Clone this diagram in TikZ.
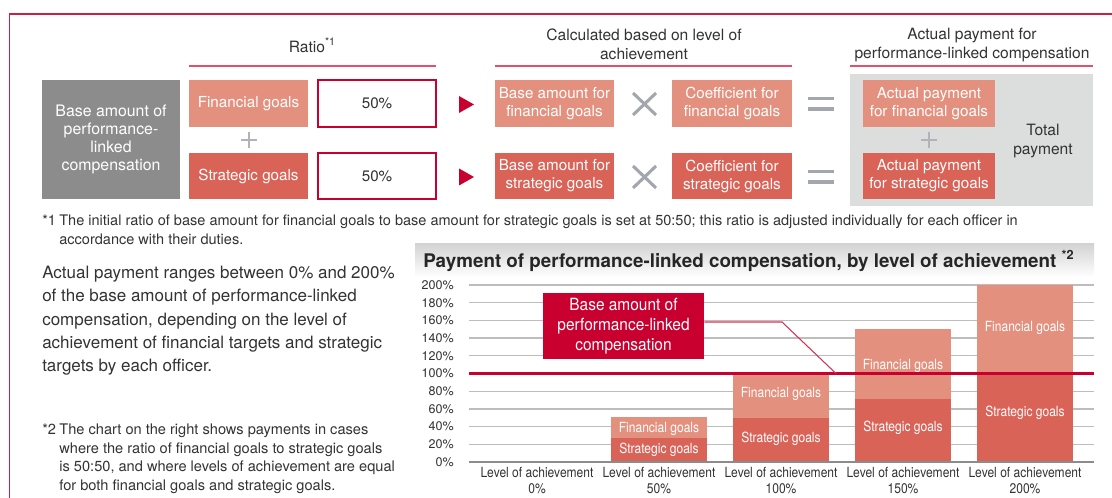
\documentclass[tikz,border=0pt]{standalone}
\usepackage{fontspec}
\setmainfont{TeX Gyre Heros}
\newfontfamily\rkcond[FakeStretch=0.86]{TeX Gyre Heros}
\newfontfamily\rkcallfam[FakeStretch=0.92]{TeX Gyre Heros}
\definecolor{finc}{HTML}{E4907E}
\definecolor{stratc}{HTML}{DA6358}
\definecolor{grayb}{HTML}{8C8C8C}
\definecolor{lightgr}{HTML}{DCDDDD}
\definecolor{crimson}{HTML}{C9002F}
\definecolor{pinkline}{HTML}{E2506C}
\definecolor{framec}{HTML}{CC1F45}
\definecolor{signgray}{HTML}{A3A6AC}
\definecolor{textc}{HTML}{333333}
\definecolor{gridc}{HTML}{BDBDBD}
\definecolor{titletop}{HTML}{D3D3D3}
\newcommand\rkbox{\fontsize{11.4}{13.5}\selectfont}
\newcommand\rkhdr{\fontsize{11.7}{14.25}\selectfont}
\newcommand\rkgray{\fontsize{11.9}{13.7}\selectfont}
\newcommand\rknote{\fontsize{10.9}{14.25}\selectfont}
\newcommand\rknotetwo{\fontsize{10.95}{14}\selectfont}
\newcommand\rkbody{\fontsize{12.75}{17.4}\selectfont}
\newcommand\rktitle{\fontsize{14.1}{16}\selectfont\bfseries}
\newcommand\rkbar{\rkcond\fontsize{10.5}{12}\selectfont}
\newcommand\rkxlab{\rkcond\fontsize{10.5}{12}\selectfont}
\newcommand\rkylab{\fontsize{9.4}{11}\selectfont}
\newcommand\rkcall{\rkcallfam\fontsize{12.6}{15}\selectfont}
\newcommand\rksup[2]{\raisebox{0.42em}{\fontsize{#1}{#1}\selectfont #2}}
\begin{document}
\begin{tikzpicture}[x=0.75pt,y=-0.75pt,
  pxsize/.style 2 args={minimum width={#1*0.75pt},minimum height={#2*0.75pt}},
  gbox/.style={draw=none,inner sep=0pt,align=center,text=white,font=\rkbox},
  finbox/.style={gbox,fill=finc},
  stratbox/.style={gbox,fill=stratc},
  pctbox/.style={inner sep=0pt,draw=crimson,line width=0.9pt,fill=white,text=textc,font=\rkbox},
  hdr/.style={align=center,text=textc,font=\rkhdr,inner sep=0pt},
  hrule/.style={draw=pinkline,line width=1.1pt},
  plussign/.style={draw=signgray!85,line width=1.5pt},
  timessign/.style={draw=signgray,line width=2.3pt},
  eqsign/.style={draw=signgray,line width=2.6pt},
  gridline/.style={draw=gridc,line width=0.9pt},
  barlabel/.style={text=white,font=\rkbar,inner sep=0pt},
  xlab/.style={align=center,text=textc,font=\rkxlab,inner sep=0pt},
  ylab/.style={anchor=east,text=textc,font=\rkylab,inner sep=0pt},
  callline/.style={draw=crimson!80,line width=0.8pt}]
\useasboundingbox (0,0) rectangle (1112,498);
\fill[white] (0,0) rectangle (1112,498);
% frame
\draw[framec,line width=0.8pt] (9.6,498) -- (9.6,14) -- (1112,14);
% headers
\node[hdr] (h1) at (312,45) {Ratio\rksup{8}{*1}};
\draw[hrule] (189,66) -- (436,66);
\node[hdr] (h2) at (644,44.5) {Calculated based on level of\\achievement};
\draw[hrule] (495,66) -- (792,66);
\node[hdr] (h3) at (972,44.5) {Actual payment for\\performance-linked compensation};
\draw[hrule] (850,66) -- (1093,66);
% left block
\node[gbox,fill=grayb,pxsize={138}{119},font=\rkgray] (base) at (111,139.5) {Base amount of\\performance-\\linked\\compensation};
\node[finbox,pxsize={119}{47}] (fin) at (248.5,103.5) {Financial goals};
\node[pctbox,pxsize={118}{47}] (pf) at (377,103.5) {50\%};
\node[stratbox,pxsize={119}{46}] (str) at (248.5,176) {Strategic goals};
\node[pctbox,pxsize={118}{46}] (ps) at (377,176) {50\%};
\draw[plussign] (241,140) -- (257,140) (249,132) -- (249,148);
% triangles
\fill[crimson] (459,96) -- (474,104.5) -- (459,113) -- cycle;
\fill[crimson] (459,168.5) -- (474,177) -- (459,185.5) -- cycle;
% middle block
\node[finbox,pxsize={119}{47}] (bf) at (554.5,103.5) {Base amount for\\financial goals};
\node[stratbox,pxsize={119}{46}] (bs) at (554.5,176) {Base amount for\\strategic goals};
\draw[timessign] (633,93) -- (656,115) (656,93) -- (633,115);
\draw[timessign] (633,166) -- (656,188) (656,166) -- (633,188);
\node[finbox,pxsize={120}{47}] (cf) at (732,103.5) {Coefficient for\\financial goals};
\node[stratbox,pxsize={120}{46}] (cs) at (732,176) {Coefficient for\\strategic goals};
\draw[eqsign] (808,98.5) -- (834,98.5) (808,109) -- (834,109);
\draw[eqsign] (808,171.5) -- (834,171.5) (808,182) -- (834,182);
% right block
\node[fill=lightgr,pxsize={243}{132},inner sep=0pt] (tot) at (971.5,140) {};
\node[finbox,pxsize={132}{47}] (af) at (929,103.5) {Actual payment\\for financial goals};
\node[stratbox,pxsize={132}{46}] (as) at (929,176) {Actual payment\\for strategic goals};
\draw[plussign] (921,140) -- (937,140) (929,132) -- (929,148);
\node[hdr] (tp) at (1043,141) {Total\\payment};
% footnote 1
\node[anchor=north west,inner sep=0pt,text=textc,font=\rknote] (n1) at (42,211.5)
 {\begin{tabular}{@{}l@{\hspace{2.5pt}}l@{}}*1 & The initial ratio of base amount for financial goals to base amount for strategic goals is set at 50:50; this ratio is adjusted individually for each officer in\\ & accordance with their duties.\end{tabular}};
% body text
\node[anchor=north west,inner sep=0pt,align=left,text=textc,font=\rkbody] (body) at (42,266)
 {Actual payment ranges between 0\% and 200\%\\of the base amount of performance-linked\\compensation, depending on the level of\\achievement of financial targets and strategic\\targets by each officer.};
% footnote 2
\node[anchor=north west,inner sep=0pt,text=textc,font=\rknotetwo] (n2) at (42,421)
 {\begin{tabular}{@{}l@{\hspace{2.5pt}}l@{}}*2 & The chart on the right shows payments in cases\\ & where the ratio of financial goals to strategic goals\\ & is 50:50, and where levels of achievement are equal\\ & for both financial goals and strategic goals.\end{tabular}};
% chart title
\shade[top color=titletop,bottom color=white] (415,244) rectangle (1094,277);
\node[anchor=west,inner sep=0pt,font=\rktitle,text=black!85] (title) at (423,261) {Payment of performance-linked compensation, by level of achievement \rksup{9.5}{\bfseries *2}};
% grid
\foreach \k in {1,...,10} \draw[gridline] (469,{462-17.7*\k}) -- (1094,{462-17.7*\k});
\foreach \k/\t in {0/0,1/20,2/40,3/60,4/80,5/100,6/120,7/140,8/160,9/180,10/200}
  \node[ylab] (yl\k) at (454,{462-17.7*\k}) {\t\%};
% bars
\fill[stratc] (611,462) rectangle (707,438); \fill[finc] (611,438) rectangle (707,417);
\fill[stratc] (733,462) rectangle (829,418); \fill[finc] (733,418) rectangle (829,373.5);
\fill[stratc] (855,462) rectangle (951,399); \fill[finc] (855,399) rectangle (951,329);
\fill[stratc] (977,462) rectangle (1073,373.5); \fill[finc] (977,373.5) rectangle (1073,285);
\draw[draw=gray!90,line width=1.1pt] (469,462) -- (1094,462);
\node[barlabel] (b1f) at (659,429) {Financial goals};
\node[barlabel] (b1s) at (659,450) {Strategic goals};
\node[barlabel] (b2f) at (781,394) {Financial goals};
\node[barlabel] (b2s) at (781,439) {Strategic goals};
\node[barlabel] (b3f) at (903,366) {Financial goals};
\node[barlabel] (b3s) at (903,428) {Strategic goals};
\node[barlabel] (b4f) at (1025,328) {Financial goals};
\node[barlabel] (b4s) at (1025,413) {Strategic goals};
% 100% line
\draw[crimson,line width=1.6pt] (469,373.5) -- (1094,373.5);
% callout
\node[fill=crimson,pxsize={161}{66},inner sep=0pt,align=center,text=white,font=\rkcall] (call) at (623.5,326) {Base amount of\\performance-linked\\compensation};
\coordinate (cb) at (782,322);
\coordinate (ce) at (836,373.5);
\draw[callline] (call.east) ++(0,-4) -- (cb) -- (ce);
% x labels
\foreach \i/\p in {0/0,1/50,2/100,3/150,4/200}
  \node[xlab,anchor=north] (xl\i) at ({537+122*\i},466.5) {Level of achievement\\\p\%};
\end{tikzpicture}
\end{document}
